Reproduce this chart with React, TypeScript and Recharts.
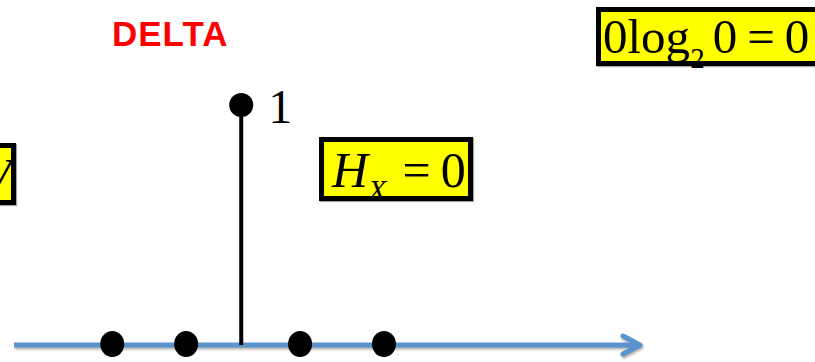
import { ComposedChart, Scatter, XAxis, YAxis } from "recharts";

// positions along the axis (arbitrary units, 0..100)
const zeroPoints = [15.7, 27.5, 45.7, 59.1];
const deltaPosition = 36.3;
const deltaHeight = 1;

const dots = zeroPoints.map((x) => ({ x, y: 0 }));
const stem = [
  { x: deltaPosition, y: 0 },
  { x: deltaPosition, y: deltaHeight },
];

const AXIS_BLUE = "#5b93cd";
const serif = "'Liberation Serif', 'DejaVu Serif', serif";

const boxStyle: React.CSSProperties = {
  position: "absolute",
  background: "#ffff00",
  border: "5px solid #000",
  boxShadow: "1px 1px 1px rgba(0,0,0,0.35)",
  fontFamily: serif,
  color: "#000",
  whiteSpace: "nowrap",
  boxSizing: "border-box",
};

function StemShape(props: any) {
  const { cx, cy, payload } = props;
  if (payload.y !== deltaHeight) return <g />;
  return (
    <g>
      <circle cx={cx} cy={cy} r={12} fill="#000" />
      <text x={cx + 27} y={cy + 18} fontFamily={serif} fontSize={48} fill="#000">
        {payload.y}
      </text>
    </g>
  );
}

function DotShape(props: any) {
  const { cx, cy } = props;
  return <ellipse cx={cx} cy={cy - 1} rx={12} ry={13} fill="#000" />;
}

export default function App() {
  return (
    <div style={{ position: "absolute", left: 0, top: 0, width: 815, height: 362, overflow: "hidden", background: "#fff" }}>
      <svg width={0} height={0} style={{ position: "absolute" }}>
        <defs>
          <marker id="arrow" markerUnits="userSpaceOnUse" markerWidth={30} markerHeight={30} refX={20} refY={12} orient="auto">
            <path d="M3,3 L20,12 L3,21" fill="none" stroke={AXIS_BLUE} strokeWidth={5} strokeLinecap="round" strokeLinejoin="round" />
          </marker>
        </defs>
      </svg>

      <ComposedChart width={815} height={362} margin={{ top: 105, right: 175, bottom: 15, left: 14 }}>
        <XAxis
          type="number"
          dataKey="x"
          domain={[0, 100]}
          height={2}
          tick={false}
          tickLine={false}
          axisLine={{ stroke: AXIS_BLUE, strokeWidth: 5, markerEnd: "url(#arrow)", style: { filter: "drop-shadow(1px 2px 1px rgba(0,0,0,0.3))" } }}
        />
        <YAxis type="number" dataKey="y" domain={[0, 1]} hide />
        <Scatter data={stem} line={{ stroke: "#000", strokeWidth: 4 }} shape={StemShape} isAnimationActive={false} />
        <Scatter data={dots} shape={DotShape} isAnimationActive={false} />
      </ComposedChart>

      <div
        style={{
          position: "absolute",
          left: 112,
          top: 14,
          fontFamily: "'Liberation Sans', Arial, sans-serif",
          fontWeight: 700,
          fontSize: 35,
          letterSpacing: 1,
          color: "#ff0000",
          lineHeight: "40px",
        }}
      >
        DELTA
      </div>

      <div style={{ ...boxStyle, left: 596, top: 7, width: 240, height: 59, fontSize: 49, lineHeight: "50px", paddingLeft: 2 }}>
        0log<sub style={{ fontSize: 29, verticalAlign: -15, lineHeight: 0, marginRight: 8 }}>2</sub>0<span style={{ margin: "0 10px" }}>=</span>0
      </div>

      <div style={{ ...boxStyle, left: 319, top: 137, width: 154, height: 64, fontSize: 50, lineHeight: "56px", paddingLeft: 8 }}>
        <i>H</i>
        <sub style={{ fontSize: 30, verticalAlign: -13, lineHeight: 0, fontStyle: "italic", marginRight: 16 }}>X</sub>
        <span style={{ marginRight: 10 }}>=</span>0
      </div>

      <div style={{ ...boxStyle, left: -40, top: 143, width: 56, height: 62, fontSize: 50, lineHeight: "56px", textAlign: "right", paddingRight: 0 }}>
        <i>V</i>
      </div>
    </div>
  );
}
